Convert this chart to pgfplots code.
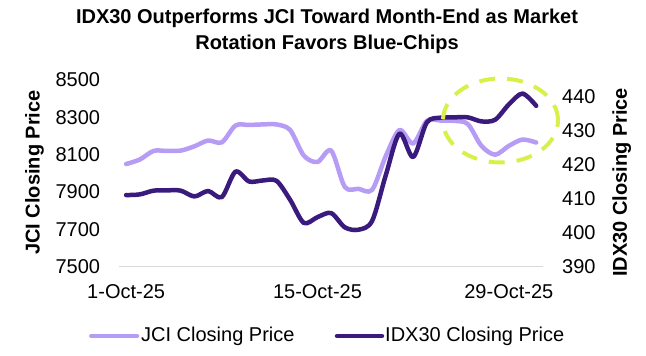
\documentclass[border=0pt]{standalone}
\usepackage{pgfplots}
\pgfplotsset{compat=1.18}
\usepackage{pgfplotstable}
\usepackage{fontspec}
\setmainfont{Liberation Sans}
\definecolor{jci}{HTML}{B69CF4}
\definecolor{idx}{HTML}{3A1A7C}
\definecolor{lime}{HTML}{D9F04A}
\definecolor{axgray}{HTML}{D9D9D9}
\pgfplotstableread{
day jci
1 8050
2 8074
3 8120
4 8120
5 8122
6 8145
7 8176
8 8166
9 8256
10 8259
11 8262
12 8262
13 8232
14 8095
15 8061
16 8122
17 7927
18 7917
19 7912
20 8093
21 8232
22 8160
23 8281
24 8283
25 8281
26 8264
27 8147
28 8100
29 8147
30 8181
31 8165
}\jcidata
\pgfplotstableread{
day idx
1 411.1
2 411.3
3 412.4
4 412.5
5 412.4
6 410.7
7 412.3
8 410.5
9 418.0
10 415.1
11 415.4
12 415.3
13 409.7
14 402.9
15 404.6
16 405.8
17 401.6
18 400.9
19 403.5
20 417.0
21 429.2
22 422.3
23 432.5
24 433.9
25 434.0
26 434.0
27 432.8
28 433.3
29 437.8
30 441.0
31 437.4
}\idxdata
\begin{document}
\begin{tikzpicture}
\useasboundingbox (-119.3pt,-89.3pt) rectangle (526.7pt,266.7pt);
\pgfplotsset{
  base/.style={
    at={(0pt,0pt)}, anchor=south west,
    scale only axis, width=423.7pt, height=186.7pt,
    xmin=0.5, xmax=31.5,
    major tick length=0pt,
    font=\fontsize{20}{24}\selectfont,
    /pgf/number format/assume math mode=true,
    /pgf/number format/1000 sep={},
    clip=false,
  }
}
\begin{axis}[base,
  ymin=7500, ymax=8500,
  ytick={7500,7700,7900,8100,8300,8500},
  xtick={1,15,29},
  xticklabels={1-Oct-25,15-Oct-25,29-Oct-25},
  axis x line*=bottom, axis y line*=left,
  x axis line style={draw=axgray, line width=1.5pt},
  y axis line style={draw=none},
  yticklabel style={anchor=east, inner sep=0pt, xshift=-19pt},
  xticklabel style={anchor=north, inner sep=0pt, yshift=-18pt},
]
\addplot[jci, line width=4.5pt, smooth, line join=round, line cap=round] table[x=day, y=jci] {\jcidata};
\end{axis}
\begin{axis}[base,
  ymin=390, ymax=445,
  ytick={390,400,410,420,430,440},
  axis x line=none, axis y line*=right,
  y axis line style={draw=none},
  yticklabel style={anchor=west, inner sep=0pt, xshift=19pt},
]
\addplot[idx, line width=4.5pt, smooth, line join=round, line cap=round] table[x=day, y=idx] {\idxdata};
\end{axis}
\draw[lime, line width=4pt, dash pattern=on 16pt off 12pt] (381.2pt,146.2pt) ellipse [x radius=57.5pt, y radius=42pt];
% title
\node[font=\fontsize{20}{26}\selectfont\bfseries, align=center] at (207.7pt,235.5pt) {IDX30 Outperforms JCI Toward Month-End as Market\\Rotation Favors Blue-Chips};
% axis labels
\node[font=\fontsize{20}{24}\selectfont\bfseries, rotate=90] at (-84.8pt,94.2pt) {JCI Closing Price};
\node[font=\fontsize{20}{24}\selectfont\bfseries, rotate=90] at (502.4pt,84.2pt) {IDX30 Closing Price};
% legend
\draw[jci, line width=4.5pt, line cap=round] (-28pt,-69.3pt) -- (17.7pt,-69.3pt);
\node[font=\fontsize{20}{24}\selectfont, anchor=west, inner sep=0pt] at (21.7pt,-69.3pt) {JCI Closing Price};
\draw[idx, line width=4.5pt, line cap=round] (217.7pt,-69.3pt) -- (262.7pt,-69.3pt);
\node[font=\fontsize{20}{24}\selectfont, anchor=west, inner sep=0pt] at (265.7pt,-69.3pt) {IDX30 Closing Price};
\end{tikzpicture}
\end{document}
